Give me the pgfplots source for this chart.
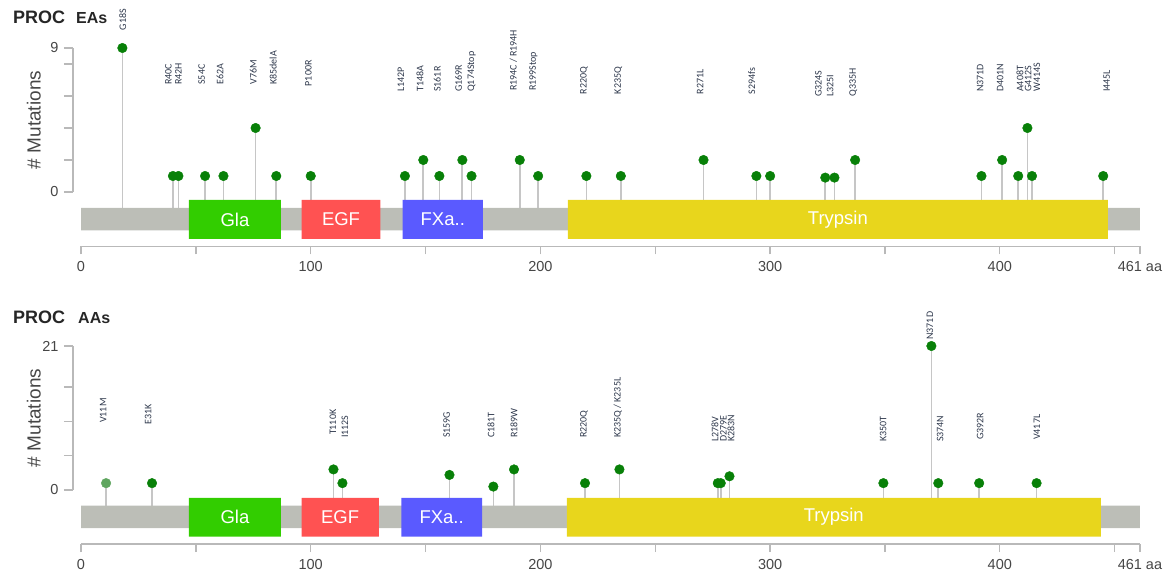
\documentclass[border=0pt]{standalone}
\usepackage{pgfplots}
\usepackage{pgfplotstable}
\pgfplotsset{compat=1.18}
\usepackage{fontspec}
\setmainfont{Liberation Sans}
\newfontfamily\labfont{Carlito}
\definecolor{ptgreen}{RGB}{8,128,8}
\definecolor{ptlight}{RGB}{95,165,95}
\definecolor{stemc}{RGB}{198,198,198}
\definecolor{axgray}{RGB}{185,185,185}
\definecolor{txtgray}{RGB}{70,70,70}
\definecolor{labcol}{RGB}{45,55,75}
\definecolor{bargray}{RGB}{188,190,183}
\definecolor{glacol}{RGB}{50,205,0}
\definecolor{egfcol}{RGB}{255,82,82}
\definecolor{fxacol}{RGB}{90,90,255}
\definecolor{trycol}{RGB}{232,214,28}

\pgfplotstableread[row sep=\\]{
x y\\
18 9\\
40 1\\
42.4 1\\
54 1\\
62 1\\
76 4\\
85 1\\
100 1\\
141 1\\
149 2\\
156 1\\
166 2\\
170 1\\
191 2\\
199 1\\
220 1\\
235 1\\
271 2\\
294 1\\
300 1\\
324 0.9\\
328 0.9\\
337 2\\
392 1\\
401 2\\
408 1\\
412 4\\
414 1\\
445 1\\
}\topdots

\pgfplotstableread[row sep=\\, col sep=comma]{
x,y,label\\
18.2,10.1,G18S\\
38,6.7,R40C\\
42.4,6.7,R42H\\
52.5,6.7,S54C\\
60.5,6.7,E62A\\
75,6.7,V76M\\
83.7,6.7,K85delA\\
99,6.6,P100R\\
139.2,6.25,L142P\\
147.6,6.25,T148A\\
155.1,6.25,S161R\\
164.3,6.25,G169R\\
170.1,6.25,Q174Stop\\
188.2,6.3,R194C / R194H\\
196.9,6.3,R199Stop\\
219,6.1,R220Q\\
233.9,6.1,K235Q\\
269.5,6.1,R271L\\
292,6.1,S294fs\\
321,5.95,G324S\\
326.1,5.95,L325I\\
336.2,5.95,Q335H\\
391.4,6.25,N371D\\
400.1,6.25,D401N\\
408.8,6.25,A408T\\
412.3,6.25,G412S\\
416.1,6.25,W414S\\
446.5,6.25,I445L\\
}\toplabs

\pgfplotstableread[row sep=\\]{
x y\\
30.9 1\\
109.9 3\\
113.8 1\\
160.4 2.2\\
179.5 0.5\\
188.5 3\\
219.4 1\\
234.4 3\\
277.2 1\\
278.5 1\\
282.3 2\\
349.3 1\\
370.2 21\\
373.2 1\\
391 1\\
416 1\\
}\botdots

\pgfplotstableread[row sep=\\, col sep=comma]{
x,y,label\\
9.6,9.77,V11M\\
29.2,9.48,E31K\\
109.7,8.0,T110K\\
114.9,7.58,I112S\\
159.2,7.58,S159G\\
178.5,7.58,C181T\\
188.5,7.58,R189W\\
219,7.58,R220Q\\
233.7,7.58,K235Q / K235L\\
276,7.0,L278V\\
279.6,7.0,D279E\\
283,7.0,K283N\\
349.2,7.0,K350T\\
369.6,21.9,N371D\\
374,7.0,S374N\\
391.4,7.3,G392R\\
416.1,7.3,V417L\\
}\botlabs

\tikzset{boxtxt/.style={text=white, font=\fontsize{18.5}{18.5}\selectfont}}

\pgfplotsset{
  lolli/.style={x=2.297pt, xmin=-3.5, xmax=461, ymin=0, clip=false,
    axis x line=none, axis y line*=left, tick align=outside,
    major tick length=9pt,
    axis line style={axgray, line width=1.5pt},
    every tick/.style={axgray, line width=1.3pt},
    yticklabel style={font=\fontsize{14.5}{14.5}\selectfont, text=txtgray, xshift=-2pt},
    ylabel={\# Mutations},
    ylabel style={font=\fontsize{19}{19}\selectfont, text=txtgray,
      at={(axis description cs:-0.0366,0.5)}, anchor=center}},
  stems/.style={only marks, mark=none,
    error bars/.cd, y dir=minus, y explicit, error mark=none,
    error bar style={stemc, line width=1.7pt}},
  dots/.style={only marks, mark=*, mark size=4.8pt,
    mark options={fill=ptgreen, draw=ptgreen}},
  labs/.style={only marks, mark=none, point meta=explicit symbolic,
    nodes near coords,
    every node near coord/.append style={rotate=90, anchor=west,
      inner sep=0pt, font=\labfont\fontsize{10}{10}\selectfont, text=labcol}},
  dom/.style={x=2.297pt, y=1pt, xmin=0, xmax=461, ymin=0, ymax=50,
    clip=false, axis x line*=bottom, axis y line=none,
    tick align=outside, major tick length=8pt,
    axis line style={axgray, line width=1.5pt},
    every tick/.style={axgray, line width=1.3pt},
    xtick={0,50,100,150,200,250,300,350,400,450,461},
    xticklabels={0,,100,,200,,300,,400,,461 aa},
    xticklabel style={font=\fontsize{14.5}{14.5}\selectfont, text=txtgray, yshift=-3.5pt}},
}

\begin{document}
\begin{tikzpicture}
\path[use as bounding box] (0,0) rectangle (1175pt,576pt);

% titles
\node[anchor=base west, inner sep=0pt, font=\bfseries\fontsize{18}{18}\selectfont, text=black!85] at (13pt,552pt) {PROC};
\node[anchor=base west, inner sep=0pt, font=\bfseries\fontsize{16}{16}\selectfont, text=black!85] at (76pt,552pt) {EAs};
\node[anchor=base west, inner sep=0pt, font=\bfseries\fontsize{18}{18}\selectfont, text=black!85] at (13pt,252pt) {PROC};
\node[anchor=base west, inner sep=0pt, font=\bfseries\fontsize{16}{16}\selectfont, text=black!85] at (78pt,252pt) {AAs};

% ===== top panel =====
\begin{axis}[lolli, at={(73pt,384pt)}, anchor=south west, y=16pt, ymax=9,
  ytick={0,2,4,6,8,9}, yticklabels={0,,,,,9}]
  \addplot[stems] table[x=x, y=y, y error minus expr=\thisrow{y}+1.3] {\topdots};
  \addplot[dots] table[x=x, y=y] {\topdots};
  \addplot[labs] table[x=x, y=y, meta=label] {\toplabs};
\end{axis}
\begin{axis}[dom, at={(81pt,329.5pt)}, anchor=south west]
  \addplot[fill=bargray, draw=none] coordinates {(0,16) (461,16) (461,38.5) (0,38.5) (0,16)};
  \addplot[fill=glacol, draw=none] coordinates {(47,7.7) (87,7.7) (87,46.5) (47,46.5) (47,7.7)};
  \addplot[fill=egfcol, draw=none] coordinates {(96,7.7) (130.3,7.7) (130.3,46.5) (96,46.5) (96,7.7)};
  \addplot[fill=fxacol, draw=none] coordinates {(140,7.7) (175,7.7) (175,46.5) (140,46.5) (140,7.7)};
  \addplot[fill=trycol, draw=none] coordinates {(212,7.7) (447,7.7) (447,46.5) (212,46.5) (212,7.7)};
  \node[boxtxt] at (axis cs:67,27) {Gla};
  \node[boxtxt] at (axis cs:113.2,27) {EGF};
  \node[boxtxt] at (axis cs:157.5,27) {FXa..};
  \node[boxtxt] at (axis cs:329.5,27) {Trypsin};
\end{axis}

% ===== bottom panel =====
\begin{axis}[lolli, at={(73pt,86pt)}, anchor=south west, y=6.857pt, ymax=21,
  ytick={0,5,10,15,21}, yticklabels={0,,,,21}]
  \addplot[stems] table[x=x, y=y, y error minus expr=\thisrow{y}+2.6] {\botdots};
  \addplot[only marks, mark=none, error bars/.cd, y dir=minus, y explicit, error mark=none,
    error bar style={stemc, line width=1.7pt}] coordinates {(10.9,1) -= (0,3.6)};
  \addplot[only marks, mark=*, mark size=4.8pt, mark options={fill=ptlight, draw=ptlight}] coordinates {(10.9,1)};
  \addplot[dots] table[x=x, y=y] {\botdots};
  \addplot[labs] table[x=x, y=y, meta=label] {\botlabs};
\end{axis}
\begin{axis}[dom, at={(81pt,32pt)}, anchor=south west]
  \addplot[fill=bargray, draw=none] coordinates {(0,16) (461,16) (461,38.3) (0,38.3) (0,16)};
  \addplot[fill=glacol, draw=none] coordinates {(47,7.3) (87,7.3) (87,46) (47,46) (47,7.3)};
  \addplot[fill=egfcol, draw=none] coordinates {(96,7.3) (129.7,7.3) (129.7,46) (96,46) (96,7.3)};
  \addplot[fill=fxacol, draw=none] coordinates {(139.5,7.3) (174.6,7.3) (174.6,46) (139.5,46) (139.5,7.3)};
  \addplot[fill=trycol, draw=none] coordinates {(211.5,7.3) (444,7.3) (444,46) (211.5,46) (211.5,7.3)};
  \node[boxtxt] at (axis cs:67,27) {Gla};
  \node[boxtxt] at (axis cs:112.8,27) {EGF};
  \node[boxtxt] at (axis cs:157,27) {FXa..};
  \node[boxtxt] at (axis cs:327.7,27) {Trypsin};
\end{axis}
\end{tikzpicture}
\end{document}
